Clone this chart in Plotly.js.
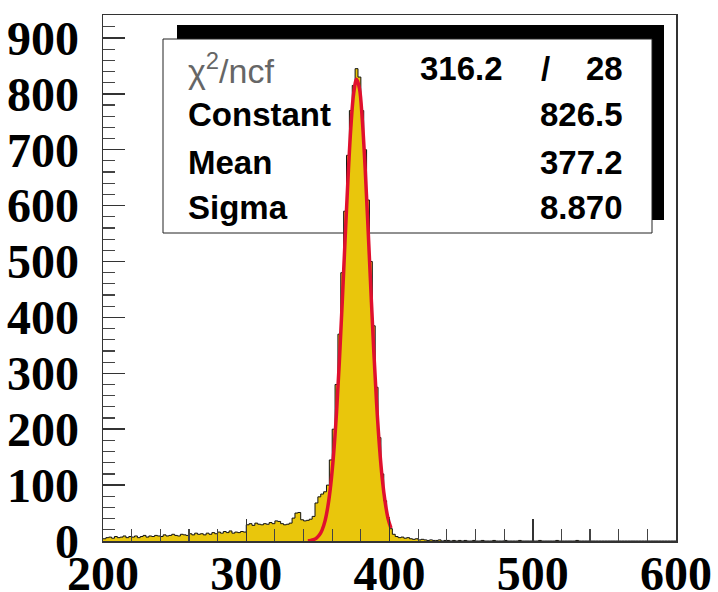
<!DOCTYPE html>
<html>
<head>
<meta charset="utf-8">
<script src="https://cdn.plot.ly/plotly-3.0.1.min.js"></script>
<style>html,body{margin:0;padding:0;background:#fff;}#plot{width:718px;height:592px;}</style>
</head>
<body>
<div id="plot"></div>
<script>
// Histogram: 2-unit bins from 200 to 600 (counts)
const binStart = 200;
const binWidth = 2;
const counts = [
  // 200 - 248
  4,6,7,5,8,6,7,9,6,8,7,9,6,8,10,7,9,8,10,9,8,11,9,10,12,
  // 250 - 298
  10,9,12,11,10,13,11,14,12,13,11,14,12,15,13,16,14,17,15,18,14,16,15,17,16,
  // 300 - 348
  29,31,28,32,30,29,31,30,33,31,36,35,31,29,30,32,41,50,51,38,36,37,39,44,68,
  // 350 - 398
  79,84,88,100,145,200,280,370,480,590,690,770,815,845,830,770,700,610,500,385,275,185,120,72,42,
  // 400 - 448
  22,12,8,6,7,5,6,4,3,4,2,3,2,1,2,1,1,2,0,1,1,0,1,0,1,
  // 450 - 498
  0,1,0,0,1,0,0,1,0,0,0,1,0,0,0,1,0,0,0,0,1,0,0,0,0,
  // 500 - 548
  0,0,1,0,0,0,0,0,1,0,0,0,0,0,0,1,0,0,0,0,0,0,0,0,0,
  // 550 - 598
  0,0,0,0,0,0,0,0,0,0,0,0,0,0,0,0,0,0,0,0,0,0,0,0,0
];

// Gaussian fit curve
const fitX = [343,345,347,349,351,353,355,357,359,361,363,365,367,369,371,373,375,377,379,381,383,385,387,389,391,393,395,397,399,401];
const fitY = [0.5,1.1,2.5,5.3,10.6,20,36,62,101,156,229,321,427,539,647,739,801,826,810,754,667,561,449,341,246,169,110,69,40,23];

// Stats box texts
const statNames = ["χ<sup>2</sup>/ncf", "Constant", "Mean", "Sigma"];
const statValues = ["28", "826.5", "377.2", "8.870"];
const chiValue = "316.2";
const xTicks = [200,300,400,500,600];
const yTicks = [0,100,200,300,400,500,600,700,800,900];

// Build step outline from bins
const hx = [], hy = [];
for (let i = 0; i < counts.length; i++) {
  hx.push(binStart + i*binWidth);
  hy.push(counts[i]);
}
hx.push(binStart + counts.length*binWidth);
hy.push(counts[counts.length-1]);

const histTrace = {
  x: hx, y: hy, type: 'scatter', mode: 'lines',
  line: {shape: 'hv', color: '#111', width: 1},
  fill: 'tozeroy', fillcolor: '#e9c60c',
  hoverinfo: 'skip'
};
const fitTrace = {
  x: fitX, y: fitY, type: 'scatter', mode: 'lines',
  line: {shape: 'spline', color: '#e0102e', width: 3.5},
  hoverinfo: 'skip'
};

// pixel -> paper helpers (plot area 103..676 x 15..541)
const L = 103, R = 676, T = 15, B = 541;
const px = v => (v - L) / (R - L);
const py = v => (B - v) / (B - T);

const rowY = [68, 115, 162, 208];
const nameFont = {family: 'Liberation Sans', size: 33, color: '#000', weight: 'bold'};
const chiFont = {family: 'Liberation Sans', size: 34, color: '#666', weight: 'normal'};
const annotations = [];
statNames.forEach((t, i) => {
  annotations.push({
    xref: 'paper', yref: 'paper', x: px(186), y: py(rowY[i]),
    xanchor: 'left', yanchor: 'middle', showarrow: false, text: t,
    font: i === 0 ? chiFont : nameFont
  });
  annotations.push({
    xref: 'paper', yref: 'paper', x: px(625), y: py(rowY[i]),
    xanchor: 'right', yanchor: 'middle', showarrow: false, text: statValues[i],
    font: nameFont
  });
});
annotations.push({
  xref: 'paper', yref: 'paper', x: px(505), y: py(rowY[0]),
  xanchor: 'right', yanchor: 'middle', showarrow: false, text: chiValue, font: nameFont
});
annotations.push({
  xref: 'paper', yref: 'paper', x: px(545), y: py(rowY[0]),
  xanchor: 'center', yanchor: 'middle', showarrow: false, text: '/', font: nameFont
});

const shapes = [
  {type: 'rect', xref: 'paper', yref: 'paper', layer: 'below',
   x0: px(177), x1: px(664), y0: py(220), y1: py(25),
   fillcolor: '#000', line: {width: 0}},
  {type: 'rect', xref: 'paper', yref: 'paper', layer: 'below',
   x0: px(163), x1: px(652), y0: py(233), y1: py(39),
   fillcolor: '#fff', line: {color: '#222', width: 1}}
];

const axisCommon = {
  ticks: 'inside', ticklen: 22, tickwidth: 1.5, tickcolor: '#333',
  showline: true, mirror: true, linecolor: '#333', linewidth: 1.5,
  showgrid: false, zeroline: false,
  tickfont: {family: 'Liberation Serif', size: 48, color: '#000', weight: 'bold'},
  minor: {ticks: 'inside', ticklen: 12, tickwidth: 1.2, tickcolor: '#444', showgrid: false}
};

const layout = {
  width: 718, height: 592,
  margin: {l: L, r: 718 - R, t: T, b: 592 - B, pad: 0},
  paper_bgcolor: '#fff', plot_bgcolor: '#fff',
  showlegend: false,
  xaxis: Object.assign({}, axisCommon, {
    range: [200, 600], tickvals: xTicks, ticklabelstandoff: -10,
    minor: Object.assign({}, axisCommon.minor, {dtick: 20, tick0: 200})
  }),
  yaxis: Object.assign({}, axisCommon, {
    range: [0, 941], tickvals: yTicks, ticklabelstandoff: 13,
    minor: Object.assign({}, axisCommon.minor, {dtick: 20, tick0: 0})
  }),
  annotations: annotations,
  shapes: shapes
};

Plotly.newPlot('plot', [histTrace, fitTrace], layout, {staticPlot: true, displayModeBar: false});
</script>
</body>
</html>
